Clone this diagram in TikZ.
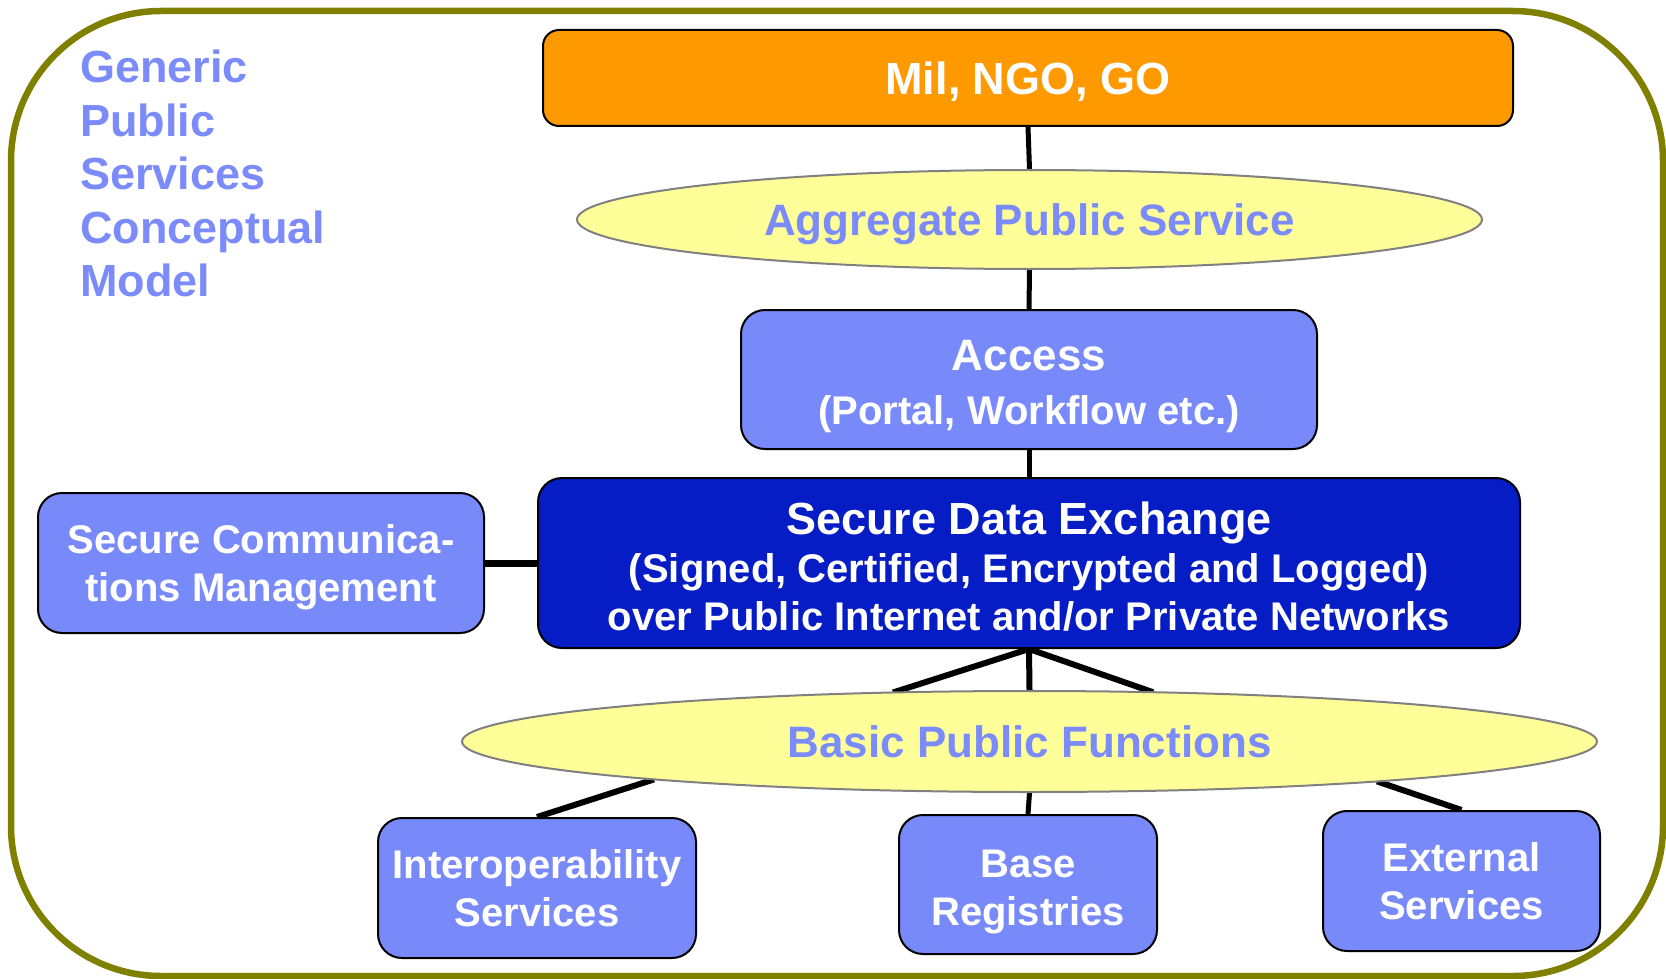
\documentclass[tikz,border=0pt]{standalone}
\usepackage{fontspec}
\setmainfont{Liberation Sans}
\usetikzlibrary{shapes.geometric,backgrounds}
\definecolor{boxblue}{RGB}{120,138,250}
\definecolor{darkblue}{RGB}{6,28,196}
\definecolor{orangefill}{RGB}{255,153,0}
\definecolor{pale}{RGB}{255,255,153}
\definecolor{framecol}{RGB}{128,128,0}
\definecolor{titleblue}{RGB}{123,140,250}
\begin{document}
\begin{tikzpicture}[x=1pt,y=-1pt,
  box/.style={draw=black,line width=2pt,rounded corners=24pt,fill=boxblue,text=white,
    align=center,inner sep=0pt,text depth=0pt,font=\fontsize{40}{48}\selectfont\bfseries},
  oval/.style={ellipse,draw=gray,line width=2pt,fill=pale,text=titleblue,inner sep=0pt,
    text depth=0pt,font=\fontsize{44}{52}\selectfont\bfseries},
  link/.style={line width=6pt,draw=black}]
\useasboundingbox (0,0) rectangle (1666,979);

% outer frame
\node[draw=framecol,line width=6.5pt,rounded corners=150pt,minimum width=1652pt,
  minimum height=965pt,inner sep=0pt] (frame) at (837,493.5) {};

% title
\node[anchor=north west,align=left,text=titleblue,inner sep=0pt,
  font=\fontsize{45}{53.5}\selectfont\bfseries] (title) at (80,50)
  {Generic\\Public\\Services\\Conceptual\\Model};

% main column
\node[box,fill=orangefill,rounded corners=16pt,minimum width=970pt,minimum height=96pt,
  font=\fontsize{45}{52}\selectfont\bfseries] (mil) at (1028,78) {Mil, NGO, GO};
\node[oval,minimum width=905pt,minimum height=99pt] (agg) at (1029.5,219.5)
  {Aggregate Public Service};
\node[box,text height=90pt,minimum width=576pt,minimum height=139pt] (access) at (1029,379.5)
  {{\fontsize{44}{48}\selectfont Access}\\[6pt](Portal, Workflow etc.)};
\node[box,text height=135pt,fill=darkblue,minimum width=982pt,minimum height=170pt] (sde) at (1029,563)
  {{\fontsize{45}{48}\selectfont Secure Data Exchange}\\(Signed, Certified, Encrypted and Logged)\\over Public Internet and/or Private Networks};
\node[box,minimum width=446pt,minimum height=140pt] (scm) at (261,563)
  {Secure Communica-\\tions Management};
\node[oval,minimum width=1135pt,minimum height=101pt] (basic) at (1029.5,741.5)
  {Basic Public Functions};
\node[box,minimum width=318pt,minimum height=140pt] (interop) at (537,888)
  {Interoperability\\Services};
\node[box,text height=81pt,minimum width=258pt,minimum height=139pt] (base) at (1028,884.5)
  {Base\\Registries};
\node[box,minimum width=277pt,minimum height=140pt] (ext) at (1461.5,881)
  {External\\Services};

% connectors
\begin{scope}[on background layer]
  \fill[white] (0,0) rectangle (1666,979);
  \draw[link,line width=5pt] (mil.south) -- (agg.north);
  \draw[link,line width=5pt] (agg.south) -- (access.north);
  \draw[link,line width=5pt] (access.south) -- (sde.north);
  \draw[link,line width=7pt] (scm.east) -- (sde.west);
  \draw[link] (sde.south) -- (basic.north);
  \draw[link] (sde.south) -- ([shift={(-136.5,-49)}]basic.center);
  \draw[link] (sde.south) -- ([shift={(123.5,-49.3)}]basic.center);
  \draw[link] ([shift={(-375.5,37.9)}]basic.center) -- (interop.north);
  \draw[link,line width=5pt] (basic.south) -- (base.north);
  \draw[link] ([shift={(347.5,39.9)}]basic.center) -- (ext.north);
\end{scope}
\end{tikzpicture}
\end{document}
